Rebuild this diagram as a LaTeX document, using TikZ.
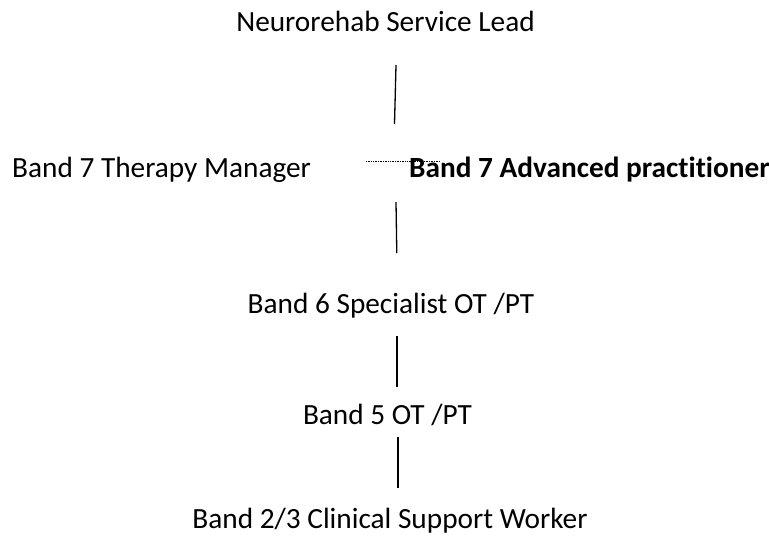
\documentclass[tikz,border=0pt]{standalone}
\usepackage{fontspec}
\setmainfont{Carlito}[Ligatures=NoCommon]
\begin{document}
\begin{tikzpicture}[x=1pt,y=1pt,
  lbl/.style={inner sep=0pt,font=\fontsize{29.3}{34}\selectfont},
  conn/.style={line width=1.3pt,black},
  dotconn/.style={line width=0.8pt,dash pattern=on 0.8pt off 0.9pt,black}]
\useasboundingbox (0,0) rectangle (769,-539);
\node[lbl,anchor=base] (lead) at (385.5,-31) {Neurorehab Service Lead};
\node[lbl,anchor=base west] (mgr) at (12,-177) {Band 7 Therapy Manager};
\node[lbl,anchor=base west,font=\fontsize{29.3}{34}\selectfont\bfseries] (adv) at (409,-177) {Band 7 Advanced practitioner};
\node[lbl,anchor=base] (b6) at (391,-313) {Band 6 Specialist OT /PT};
\node[lbl,anchor=base] (b5) at (387.5,-424) {Band 5 OT /PT};
\node[lbl,anchor=base] (b23) at (390,-528) {Band 2/3 Clinical Support Worker};
\coordinate (l1a) at (396,-65);
\coordinate (l1b) at (394.5,-124);
\coordinate (l2a) at (396,-202);
\coordinate (l2b) at (396.8,-253);
\coordinate (l3a) at (397,-336);
\coordinate (l3b) at (397,-387);
\coordinate (l4a) at (398,-437);
\coordinate (l4b) at (398,-488);
\coordinate (d1) at (366,-161);
\coordinate (d2) at (440,-161);
\draw[conn] (l1a) -- (l1b);
\draw[conn] (l2a) -- (l2b);
\draw[conn] (l3a) -- (l3b);
\draw[conn] (l4a) -- (l4b);
\draw[dotconn] (d1) -- (d2);
\end{tikzpicture}
\end{document}
